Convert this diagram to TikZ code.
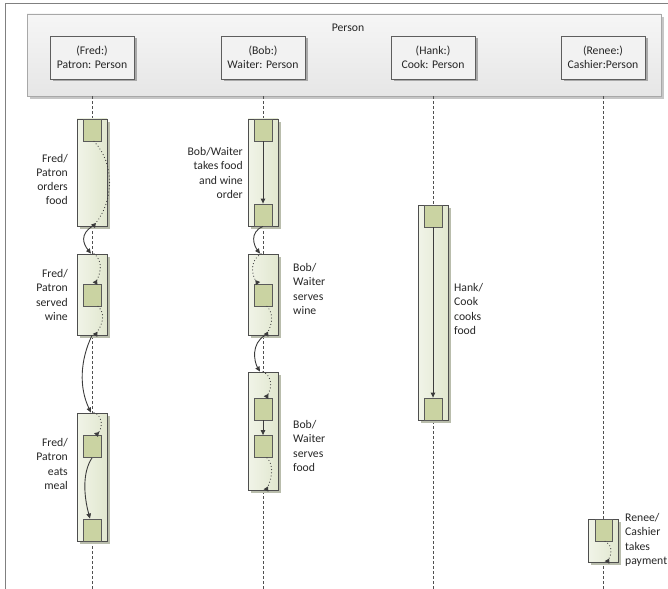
\documentclass[tikz,border=0pt]{standalone}
\usepackage{fontspec}
\setmainfont{Carlito}
\usetikzlibrary{arrows.meta,shadows}

\definecolor{framegray}{HTML}{808080}
\definecolor{contborder}{HTML}{A8A8A8}
\definecolor{contTop}{HTML}{F6F6F6}
\definecolor{contBot}{HTML}{E6E6E6}
\definecolor{contshadow}{HTML}{C6C6C6}
\definecolor{partborder}{HTML}{5E5E5E}
\definecolor{partfill}{HTML}{F2F2F2}
\definecolor{partshadow}{HTML}{A9A9A9}
\definecolor{barborder}{HTML}{4E4E4E}
\definecolor{barL}{HTML}{F1F4E8}
\definecolor{barR}{HTML}{E1E7CF}
\definecolor{barshadow}{HTML}{B9BDAC}
\definecolor{sqborder}{HTML}{5A5A5A}
\definecolor{sqfill}{HTML}{CAD3A2}
\definecolor{lifegray}{HTML}{505050}
\definecolor{arrowgray}{HTML}{3C3C3C}
\definecolor{textgray}{HTML}{262626}

\begin{document}
\begin{tikzpicture}[x=1pt,y=-1pt,
  every node/.style={font=\fontsize{11.7}{14.3}\selectfont, text=textgray},
  container/.style={draw=contborder, line width=0.8pt, top color=contTop, bottom color=contBot,
    general shadow={fill=contshadow, shadow xshift=3pt, shadow yshift=-3pt},
    minimum width=634, minimum height=82, inner sep=0},
  participant/.style={draw=partborder, line width=0.8pt, fill=partfill,
    general shadow={fill=partshadow, shadow xshift=2.5pt, shadow yshift=-2.5pt},
    minimum width=84, minimum height=43, inner sep=0, align=center},
  bar/.style={draw=barborder, line width=0.8pt, left color=barL, right color=barR,
    general shadow={fill=barshadow, shadow xshift=3pt, shadow yshift=-3pt},
    minimum width=30, inner sep=0},
  sq/.style={draw=sqborder, line width=0.8pt, fill=sqfill, minimum width=18, minimum height=22, inner sep=0},
  lifeline/.style={draw=lifegray, line width=0.7pt, dash pattern=on 3pt off 2pt},
  msg/.style={draw=arrowgray, line width=0.9pt, -{Triangle[length=5pt,width=4.5pt]}},
  ret/.style={draw=arrowgray, line width=1.2pt, dash pattern=on 0.01pt off 3.2pt, line cap=round,
    -{Triangle[reversed,length=4.5pt,width=5pt]}},
  lbl/.style={inner sep=0}
]
\useasboundingbox (0,0) rectangle (668,588);
\clip (0,0) rectangle (668,588);

% outer frame
\draw[draw=framegray, line width=0.8pt] (5,600) -- (5,3) -- (680,3);

% Person container and its participants
\node[container] (person) at (344,55) {};
\node at (348,28) {Person};
\node[participant] (fred)  at (92,57.5)  {(Fred:)\\Patron: Person};
\node[participant] (bob)   at (263,57.5) {(Bob:)\\Waiter: Person};
\node[participant] (hank)  at (433,57.5) {(Hank:)\\Cook: Person};
\node[participant] (renee) at (603,57.5) {(Renee:)\\Cashier:Person};

% lifelines
\coordinate (bot) at (0,590);
\foreach \p in {fred,bob,hank,renee}
  \draw[lifeline] (\p |- person.south) -- (\p |- bot);

% activation bars
\node[bar, minimum height=107] (fb1) at (92,172.5) {};
\node[bar, minimum height=81]  (fb2) at (92,294.5) {};
\node[bar, minimum height=128] (fb3) at (92,477) {};
\node[bar, minimum height=107] (bb1) at (263,172.5) {};
\node[bar, minimum height=81]  (bb2) at (263,294.5) {};
\node[bar, minimum height=118] (bb3) at (263,431) {};
\node[bar, minimum height=215] (hb)  at (433,312.5) {};
\node[bar, minimum height=43]  (rb)  at (603,540.5) {};

% execution steps
\node[sq] (fs1) at (92,130) {};
\node[sq] (fs2) at (92,295) {};
\node[sq] (fs3) at (92,446.5) {};
\node[sq] (fs4) at (92,530) {};
\node[sq] (bs1) at (263,130) {};
\node[sq] (bs2) at (263,215) {};
\node[sq] (bs3) at (263,295) {};
\node[sq] (bs4) at (263,409) {};
\node[sq] (bs5) at (263,446.5) {};
\node[sq] (hs1) at (433,216) {};
\node[sq] (hs2) at (433,409) {};
\node[sq, minimum width=17] (rs1) at (604,530) {};

% Fred / Patron
\draw[ret] ([xshift=2pt]fs1.south) .. controls +(21,22) and +(21,-25) .. ([xshift=1pt]fb1.south);
\draw[msg] (fb1.south) .. controls +(-12,8) and +(-8,-10) .. ([xshift=-1pt]fb2.north);
\draw[ret] ([xshift=2pt]fb2.north) .. controls +(10,8) and +(5,-9) .. ([xshift=3pt]fs2.north);
\draw[ret] ([xshift=6pt]fs2.south) .. controls +(9,8) and +(6,-9) .. ([xshift=3pt]fb2.south);
\draw[msg] (fb2.south) .. controls +(-12,25) and +(-12,-25) .. ([xshift=-1pt]fb3.north);
\draw[ret] ([xshift=2pt]fb3.north) .. controls +(10,4) and +(6,-6) .. ([xshift=4pt]fs3.north);
\draw[msg] (fs3.south) .. controls +(-10,15) and +(-6,-22) .. ([xshift=-2pt]fs4.north);

% Bob / Waiter
\draw[msg] (bs1.south) -- (bs2.north);
\draw[msg] (bb1.south) .. controls +(-14,6) and +(-6,-8) .. ([xshift=-3pt]bb2.north);
\draw[ret] ([xshift=-2pt]bb2.north) .. controls +(-12,8) and +(-6,-8) .. ([xshift=-5pt]bs3.north);
\draw[ret] ([xshift=4pt]bs3.south) .. controls +(8,8) and +(5,-9) .. ([xshift=3pt]bb2.south);
\draw[msg] ([xshift=2pt]bb2.south) .. controls +(-14,8) and +(-6,-10) .. ([xshift=-3pt]bb3.north);
\draw[ret] (bb3.north) .. controls +(11,6) and +(5,-8) .. ([xshift=3pt]bs4.north);
\draw[msg] (bs4.south) -- (bs5.north);
\draw[ret] ([xshift=4pt]bs5.south) .. controls +(8,8) and +(5,-10) .. ([xshift=3pt]bb3.south);

% Hank / Cook
\draw[msg] (hs1.south) -- (hs2.north);

% Renee / Cashier
\draw[ret] ([xshift=1pt]rs1.south) .. controls +(9,5) and +(4,-7) .. ([xshift=4pt]rb.south);

% step descriptions
\node[lbl, anchor=east, align=right] (tf1) at (68,179.5) {Fred/\\Patron\\orders\\food};
\node[lbl, anchor=east, align=right] (tf2) at (68,295) {Fred/\\Patron\\served\\wine};
\node[lbl, anchor=east, align=right] (tf3) at (68,464) {Fred/\\Patron\\eats\\meal};
\node[lbl, anchor=east, align=right] (tb1) at (243,173) {Bob/Waiter\\takes food\\and wine\\order};
\node[lbl, anchor=west, align=left]  (tb2) at (293,289) {Bob/\\Waiter\\serves\\wine};
\node[lbl, anchor=west, align=left]  (tb3) at (293,446) {Bob/\\Waiter\\serves\\food};
\node[lbl, anchor=west, align=left]  (th)  at (454,309) {Hank/\\Cook\\cooks\\food};
\node[lbl, anchor=west, align=left]  (tr)  at (625,540) {Renee/\\Cashier\\takes\\payment};
\end{tikzpicture}
\end{document}
